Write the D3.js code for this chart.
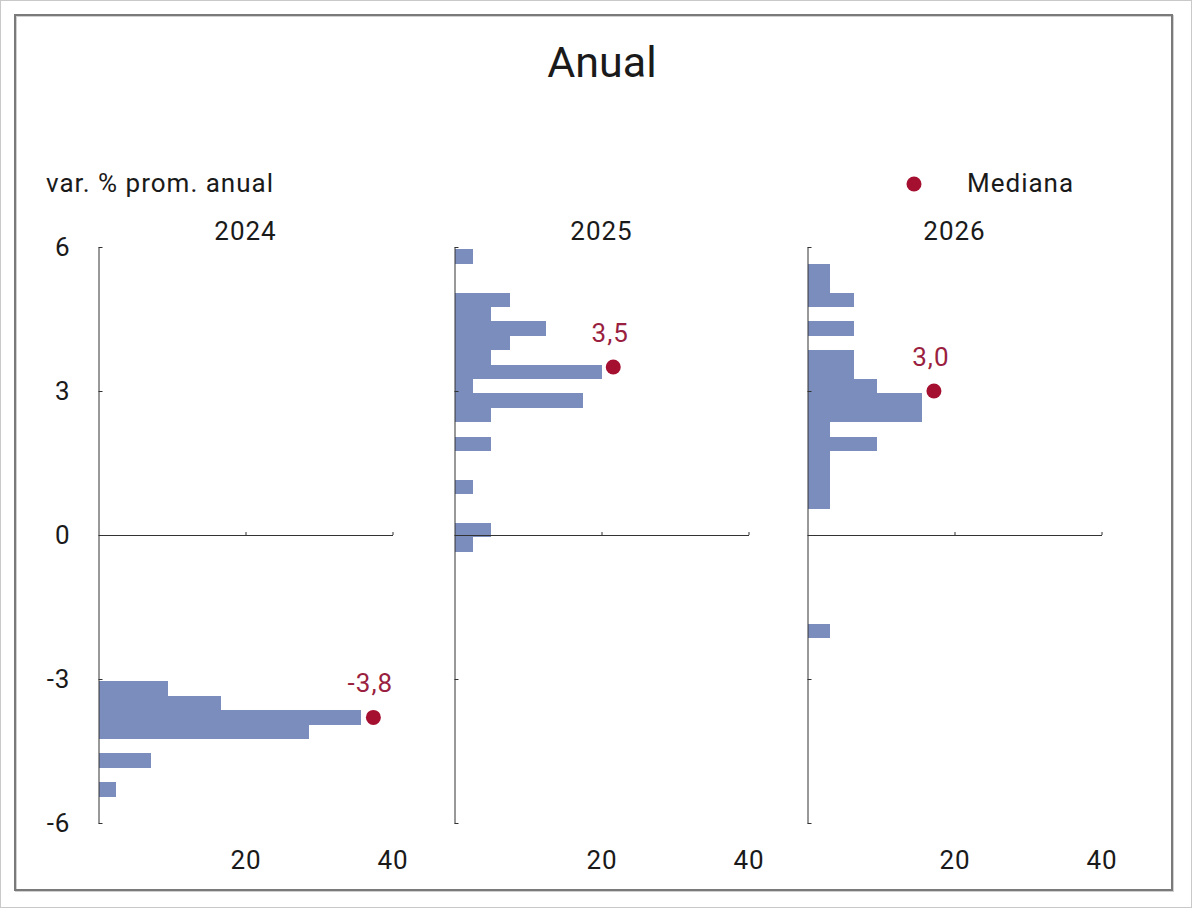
<!DOCTYPE html>
<html>
<head>
<meta charset="utf-8">
<script src="https://cdn.jsdelivr.net/npm/d3@7"></script>
<style>
  body { margin: 0; background: #fff; }
  text { font-family: Roboto, "Liberation Sans", sans-serif; fill: #1a1a1a; }
  .lbl { font-size: 26px; letter-spacing: 1px; }
</style>
</head>
<body>
<div id="chart"></div>
<script>
// bin centers (var. %) and share of respondents (%) per year
var years = ["2024", "2025", "2026"];
var bins2024 = [-3.2, -3.5, -3.8, -4.1, -4.7, -5.3];
var pct2024  = [9.5, 16.7, 35.7, 28.6, 7.1, 2.4];
var bins2025 = [5.8, 4.9, 4.6, 4.3, 4.0, 3.7, 3.4, 3.1, 2.8, 2.5, 1.9, 1.0, 0.1, -0.2];
var pct2025  = [2.5, 7.5, 5, 12.5, 7.5, 5, 20, 2.5, 17.5, 5, 5, 2.5, 5, 2.5];
var bins2026 = [5.5, 5.2, 4.9, 4.3, 3.7, 3.4, 3.1, 2.8, 2.5, 2.2, 1.9, 1.6, 1.3, 1.0, 0.7, -2.0];
var pct2026  = [3.1, 3.1, 6.3, 6.3, 6.3, 6.3, 9.4, 15.6, 15.6, 3.1, 9.4, 3.1, 3.1, 3.1, 3.1, 3.1];
var medianas = [-3.8, 3.5, 3.0];
var medianaX = [37.4, 21.6, 17.2];
var medianaLabels = ["-3,8", "3,5", "3,0"];
var yTicks = [6, 3, 0, -3, -6];
var xTicks = [20, 40];
var binWidth = 0.3;

var colorBar = "#7b8dbd";
var colorMed = "#a50f30";

var W = 1200, H = 917;
var svg = d3.select("#chart").append("svg")
  .attr("width", W)
  .attr("height", H);

// frames
svg.append("rect")
  .attr("x", 0.5).attr("y", 0.5).attr("width", 1191).attr("height", 907)
  .attr("fill", "#fff").attr("stroke", "#c9c9c9").attr("stroke-width", 1);
svg.append("rect")
  .attr("x", 16).attr("y", 16).attr("width", 1157).attr("height", 875)
  .attr("fill", "none").attr("stroke", "#d0d0d0").attr("stroke-width", 2);
svg.append("rect")
  .attr("x", 15).attr("y", 15).attr("width", 1157).attr("height", 875)
  .attr("fill", "none").attr("stroke", "#7a7a7a").attr("stroke-width", 2);

svg.append("text")
  .attr("x", 602).attr("y", 77)
  .attr("text-anchor", "middle")
  .style("font-size", "43px")
  .text("Anual");

svg.append("text")
  .attr("class", "lbl")
  .attr("x", 46).attr("y", 192)
  .text("var. % prom. anual");

// legend
svg.append("circle")
  .attr("cx", 914).attr("cy", 184).attr("r", 7.5)
  .attr("fill", colorMed);
svg.append("text")
  .attr("class", "lbl")
  .attr("x", 967).attr("y", 192)
  .text("Mediana");

var yScale = d3.scaleLinear().domain([-6, 6]).range([823, 247]);

var panelX = [98.5, 454.5, 807.5];
var panelW = 294;
var bins = [bins2024, bins2025, bins2026];
var pcts = [pct2024, pct2025, pct2026];

years.forEach(function(yr, i) {
  var xScale = d3.scaleLinear().domain([0, 40]).range([panelX[i], panelX[i] + panelW]);
  var g = svg.append("g");

  var data = bins[i].map(function(c, j) { return { c: c, v: pcts[i][j] }; });

  g.selectAll("rect.bar").data(data).enter().append("rect")
    .attr("class", "bar")
    .attr("x", xScale(0))
    .attr("y", function(d) { return yScale(d.c + binWidth / 2); })
    .attr("width", function(d) { return xScale(d.v) - xScale(0); })
    .attr("height", function(d) { return yScale(d.c - binWidth / 2) - yScale(d.c + binWidth / 2); })
    .attr("fill", colorBar)
    .attr("shape-rendering", "crispEdges");

  // y axis with inward ticks
  var yAxisG = g.append("g")
    .attr("transform", "translate(" + xScale(0) + ",0)")
    .call(d3.axisRight(yScale).tickValues(yTicks).tickSize(4).tickSizeOuter(0).tickFormat(""));
  yAxisG.select(".domain").attr("stroke", "#333");
  yAxisG.selectAll(".tick line").attr("stroke", "#333");

  if (i === 0) {
    var yLab = g.append("g")
      .attr("transform", "translate(" + xScale(0) + ",0)")
      .call(d3.axisLeft(yScale).tickValues(yTicks).tickSize(0).tickPadding(28)
        .tickFormat(function(d) { return String(d); }));
    yLab.select(".domain").remove();
    yLab.selectAll("text").attr("class", "lbl").attr("fill", "#1a1a1a");
  }

  // x axis line at 0
  var xAxisG = g.append("g")
    .attr("transform", "translate(0," + yScale(0) + ")")
    .call(d3.axisTop(xScale).tickValues(xTicks).tickSize(3).tickSizeOuter(0).tickFormat(""));
  xAxisG.select(".domain").attr("stroke", "#333");
  xAxisG.selectAll(".tick line").attr("stroke", "#333");

  var xLab = g.append("g")
    .attr("transform", "translate(0,847)")
    .call(d3.axisBottom(xScale).tickValues(xTicks).tickSize(0).tickPadding(4));
  xLab.select(".domain").remove();
  xLab.selectAll("text").attr("class", "lbl").attr("fill", "#1a1a1a");

  g.append("text")
    .attr("class", "lbl")
    .attr("x", xScale(20)).attr("y", 240)
    .attr("text-anchor", "middle")
    .text(yr);

  g.append("circle")
    .attr("cx", xScale(medianaX[i])).attr("cy", yScale(medianas[i])).attr("r", 7.5)
    .attr("fill", colorMed);
  g.append("text")
    .attr("class", "lbl")
    .attr("x", xScale(medianaX[i]) - 3).attr("y", yScale(medianas[i]) - 25)
    .attr("text-anchor", "middle")
    .style("fill", "#9a1f40")
    .text(medianaLabels[i]);
});
</script>
</body>
</html>
